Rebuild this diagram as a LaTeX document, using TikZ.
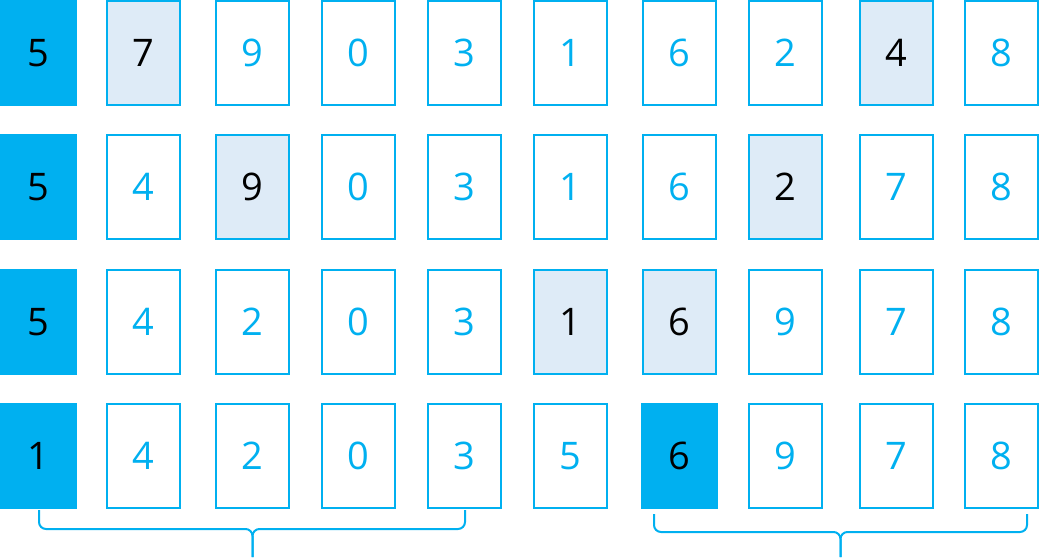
\documentclass[tikz,border=0pt]{standalone}
\usepackage{fontspec}
\setmainfont{Open Sans}
\definecolor{cy}{HTML}{00B0F0}
\definecolor{lb}{HTML}{DEEBF7}
\tikzset{
  cell/.style={draw=cy, line width=2pt, minimum width=73pt, minimum height=104pt, inner sep=0pt, text=cy, font=\fontsize{38}{40}\selectfont},
  hl/.style={cell, fill=lb, text=black},
  piv/.style={draw=none, fill=cy, minimum width=77pt, minimum height=106pt, inner sep=0pt, text=black, font=\fontsize{38}{40}\selectfont},
  brace/.style={draw=cy, line width=2pt, rounded corners=7pt}
}
\begin{document}
\begin{tikzpicture}[x=1pt,y=-1pt]
\useasboundingbox (0,0) rectangle (1040,557);
\def\xs{{38.5,143.5,252.5,358,464.5,570.5,679.5,785.5,896.5,1001.5}}
\def\ys{{53,187,322,456}}
\newcommand\rowcells[2]{%
  \foreach \st/\v [count=\i from 0] in {#2} {
    \pgfmathsetmacro\xx{\xs[\i]}
    \pgfmathsetmacro\yy{\ys[#1]}
    \node[\st] (b#1\i) at (\xx,\yy) {\v};
  }}
\rowcells{0}{piv/5,hl/7,cell/9,cell/0,cell/3,cell/1,cell/6,cell/2,hl/4,cell/8}
\rowcells{1}{piv/5,cell/4,hl/9,cell/0,cell/3,cell/1,cell/6,hl/2,cell/7,cell/8}
\rowcells{2}{piv/5,cell/4,cell/2,cell/0,cell/3,hl/1,hl/6,cell/9,cell/7,cell/8}
\rowcells{3}{piv/1,cell/4,cell/2,cell/0,cell/3,cell/5,piv/6,cell/9,cell/7,cell/8}
% left brace
\coordinate (la) at (39,510);
\coordinate (lb) at (465,510);
\coordinate (lm) at (252.5,529);
\coordinate (lt) at (252.5,557);
\draw[brace] (la) |- (lm) -- (lt);
\draw[brace] (lb) |- (lm) -- (lt);
% right brace
\coordinate (ra) at (654,514);
\coordinate (rb) at (1027,514);
\coordinate (rm) at (840.5,532);
\coordinate (rt) at (840.5,557);
\draw[brace] (ra) |- (rm) -- (rt);
\draw[brace] (rb) |- (rm) -- (rt);
\end{tikzpicture}
\end{document}
